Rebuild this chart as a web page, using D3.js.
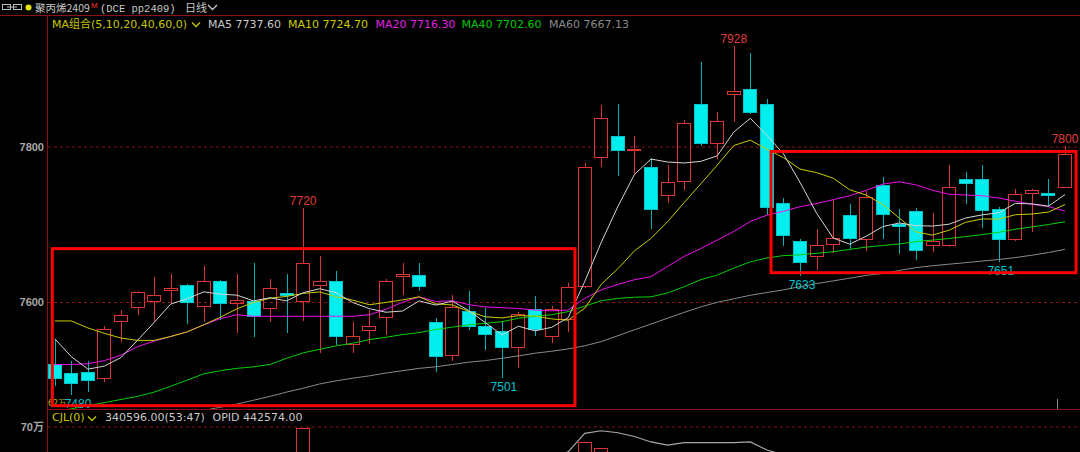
<!DOCTYPE html>
<html><head><meta charset="utf-8">
<script src="https://cdn.jsdelivr.net/npm/d3@7"></script>
<style>html,body{margin:0;padding:0;background:#000;overflow:hidden}</style>
</head><body>
<svg id="c" width="1080" height="452"></svg>
<script>
// ---------- data ----------
const opens = [7519,7508,7509,7500,7573,7591,7600,7614,7621,7593,7626,7597,7601,7590,7611,7600,7620,7626,7544,7562,7579,7631,7634,7574,7530,7588,7568,7562,7540,7590,7554,7576,7619,7784,7813,7794,7773,7736,7754,7854,7803,7866,7873,7854,7727,7678,7657,7673,7711,7679,7750,7700,7716,7671,7671,7757,7758,7719,7679,7738,7739,7746];
const highs = [7552,7523,7524,7569,7589,7613,7631,7635,7623,7646,7628,7636,7650,7629,7636,7720,7658,7639,7573,7589,7629,7649,7649,7579,7608,7614,7591,7574,7587,7607,7594,7624,7778,7853,7854,7813,7785,7776,7833,7908,7844,7928,7919,7861,7733,7680,7693,7730,7725,7742,7760,7719,7720,7714,7776,7767,7776,7721,7745,7745,7758,7800];
const lows = [7491,7480,7484,7497,7548,7583,7574,7598,7571,7573,7576,7559,7554,7573,7559,7575,7534,7544,7534,7545,7557,7608,7613,7509,7524,7563,7538,7501,7515,7555,7546,7561,7617,7773,7761,7764,7693,7727,7744,7800,7783,7831,7841,7711,7671,7633,7640,7662,7668,7665,7680,7661,7653,7664,7670,7726,7695,7651,7678,7689,7721,7746];
const closes = [7500,7494,7498,7564,7583,7612,7608,7617,7598,7627,7597,7602,7580,7618,7607,7650,7627,7554,7555,7568,7627,7635,7619,7528,7593,7567,7557,7540,7584,7563,7590,7619,7773,7836,7793,7796,7718,7754,7830,7803,7832,7871,7842,7720,7684,7649,7673,7682,7681,7735,7711,7696,7665,7678,7747,7751,7716,7679,7738,7744,7736,7790];

const ma5 = [7552,7529,7513,7517,7528,7550.2,7573,7596.8,7603.6,7612.4,7609.4,7608.2,7600.8,7604.8,7600.8,7611.4,7616.4,7611.2,7598.6,7590.8,7586.2,7587.8,7600.8,7595.4,7600.4,7588.4,7572.8,7557,7568.2,7562.2,7566.8,7579.2,7625.8,7676.2,7722.2,7763.4,7783.2,7779.4,7778.2,7780.2,7787.4,7818,7835.6,7813.6,7789.8,7753.2,7713.6,7681.6,7673.8,7684,7696.4,7701,7697.6,7697,7699.4,7707.4,7711.4,7714.2,7726.2,7725.6,7722.6,7737.6];
const ma10 = [7575,7575,7566,7559,7553,7550,7550,7555,7561,7570.1,7579.8,7590.6,7598.8,7604.2,7606.6,7610.4,7612.3,7606,7601.7,7595.8,7598.8,7602.1,7606,7597,7595.6,7587.3,7580.3,7578.9,7581.8,7581.3,7577.6,7576,7591.4,7622.2,7642.2,7665.1,7681.2,7702.6,7727.2,7751.2,7775.4,7800.6,7807.5,7795.9,7785,7770.3,7765.8,7758.6,7743.7,7736.9,7724.8,7707.3,7689.6,7685.4,7691.7,7701.9,7706.2,7705.9,7711.6,7712.5,7715,7724.7];
const ma20 = [7519,7519,7520,7524,7531,7542,7549,7555,7561,7570,7578,7583,7581,7581,7581,7581,7581,7581,7581,7583,7590,7599,7606,7600,7601,7596,7593,7592,7591,7589,7588,7589,7604,7615,7622,7628,7632,7645,7658,7668,7679,7690,7703,7711,7716,7722,7726,7731,7736,7743,7751,7754,7750,7743,7738,7737,7736,7733,7729,7725,7722,7716.3];
const ma40 = [7458,7462,7466,7470,7474,7478,7483.5,7491,7499,7507,7511,7514,7516,7519,7527,7534,7538.5,7543,7546.4,7551,7554,7557.5,7560,7564,7567,7570,7572,7574,7578.5,7581,7583,7587,7594,7601,7604,7605.5,7606,7611,7619,7628,7634,7643,7651,7656,7659,7660,7662,7664,7667,7670,7672,7674,7677,7679,7681,7683.5,7686,7689,7693,7696,7699,7702.6];
const ma60 = [null,null,null,null,null,null,null,null,null,7460,7464,7468,7473,7478,7483.5,7488.5,7494,7498,7501.4,7504.4,7508,7511,7514,7516,7519,7522,7524,7527,7530,7533.5,7536,7539,7543,7548.5,7556,7563.5,7571,7578.5,7586,7593,7599,7603.5,7608,7611.5,7615,7619,7623,7626.5,7630,7633.6,7636,7640,7643.6,7646,7648,7650,7652,7654,7656.5,7659.5,7663,7667.13];

// volume panel (only the visible parts can be read)
const volumes = [null,null,null,null,null,null,null,null,null,null,null,null,null,null,null,681000,null,null,null,null,null,null,null,null,null,null,null,null,null,null,null,null,549000,492000,null,null,null,null,null,null,null,null,null,null,null,null,null,null,null,null,null,null,null,null,null,null,null,null,null,null,null,null];
const openInterest = [null,null,null,null,null,null,null,null,null,null,null,null,null,null,null,null,null,null,null,null,null,null,null,null,null,null,null,null,null,null,407000,456000,631000,655000,636000,601000,549000,520000,543000,543000,543000,543000,549000,473000,426000,388000,null,null,null,null,null,null,null,null,null,null,null,null,null,null,null,null];

const priceTicks = [7600, 7800];
const volumeTicks = [700000];
const volumeTickLabels = ["70万"];
const maNames = ["MA5","MA10","MA20","MA40","MA60"];
const highMarks = [15, 41, 61];
const lowMarks = [1, 27, 45, 57];
// annotation rectangles in data units (candle index, price)
const boxX0 = [-0.15, 43.25];
const boxX1 = [31.41, 61.67];
const boxTop = [7668, 7793];
const boxBottom = [7466, 7637];
const volLegend = ["340596.00(53:47)", "OPID 442574.00"];

// ---------- layout ----------
const W = 1080, H = 452, L = 48, headerB = 16, mainB = 409;
const x = d3.scaleLinear().domain([0, 61]).range([54.8, 1065]);
const y = d3.scaleLinear().domain([7600, 7800]).range([301.5, 146]);
const yv = d3.scaleLinear().domain([0, 700000]).range([500, 426]);

const RED = "#dd3434", CYAN = "#00eeee", CYAN_W = "#00b2b8", DARKRED = "#8a1414";
const maColors = ["#d6d6d6", "#cccc00", "#ee10ee", "#00d000", "#8a8a8a"];
const legendColors = ["#c8c8c8", "#cccc00", "#e020e0", "#00c800", "#8a8a8a"];
const FONT = "'DejaVu Sans','Noto Sans CJK SC',sans-serif";

const svg = d3.select("#c");
svg.append("rect").attr("width", W).attr("height", H).attr("fill", "#000");
const defs = svg.append("defs");
defs.append("clipPath").attr("id", "mainClip").append("rect")
  .attr("x", L).attr("y", headerB).attr("width", W - L).attr("height", mainB - headerB);
defs.append("clipPath").attr("id", "volClip").append("rect")
  .attr("x", L).attr("y", mainB + 1).attr("width", W - L).attr("height", H - mainB);

// ---------- axes / grid ----------
const pAxis = svg.append("g").attr("transform", `translate(${L},0.5)`)
  .call(d3.axisLeft(y).tickValues(priceTicks).tickSizeInner(-(W - L)).tickSizeOuter(0).tickPadding(4).tickFormat(d3.format("d")));
pAxis.select(".domain").remove();
pAxis.selectAll(".tick line").attr("stroke", DARKRED).attr("stroke-dasharray", "3,3");
pAxis.selectAll(".tick text").attr("fill", "#a8a8a8").attr("font-family", "'Liberation Sans',sans-serif")
  .attr("font-weight", "bold").attr("font-size", 11).attr("dy", "0.35em");

const vAxis = svg.append("g").attr("transform", `translate(${L},0.5)`)
  .call(d3.axisLeft(yv).tickValues(volumeTicks).tickSizeInner(-(W - L)).tickSizeOuter(0).tickPadding(4)
    .tickFormat((d, i) => volumeTickLabels[i]));
vAxis.select(".domain").remove();
vAxis.selectAll(".tick line").attr("stroke", DARKRED).attr("stroke-dasharray", "3,3");
vAxis.selectAll(".tick text").attr("fill", "#a8a8a8").attr("font-family", "'Liberation Sans','Noto Sans CJK SC',sans-serif")
  .attr("font-weight", "bold").attr("font-size", 11).attr("dy", "0.35em");

// frame lines
svg.append("line").attr("x1", 0).attr("x2", W).attr("y1", headerB - 0.5).attr("y2", headerB - 0.5).attr("stroke", DARKRED);
svg.append("line").attr("x1", L - 0.5).attr("x2", L - 0.5).attr("y1", headerB).attr("y2", H).attr("stroke", DARKRED);
svg.append("line").attr("x1", L).attr("x2", W).attr("y1", mainB + 0.5).attr("y2", mainB + 0.5).attr("stroke", DARKRED);

// ---------- candles ----------
const main = svg.append("g").attr("clip-path", "url(#mainClip)");
const BW = 14;
opens.forEach((o, i) => {
  const c = closes[i];
  const cx = Math.round(x(i));
  const up = c >= o;
  const yt = Math.round(y(Math.max(o, c))), yb = Math.round(y(Math.min(o, c)));
  const yh = Math.round(y(highs[i])), yl = Math.round(y(lows[i]));
  const g = main.append("g");
  if (up) {
    g.append("line").attr("x1", cx + 0.5).attr("x2", cx + 0.5).attr("y1", yh).attr("y2", yt).attr("stroke", RED);
    g.append("line").attr("x1", cx + 0.5).attr("x2", cx + 0.5).attr("y1", yb).attr("y2", yl).attr("stroke", RED);
    if (yb - yt < 2) {
      g.append("line").attr("x1", cx - BW / 2).attr("x2", cx + BW / 2).attr("y1", yt + 0.5).attr("y2", yt + 0.5).attr("stroke", RED).attr("stroke-width", 2);
    } else {
      g.append("rect").attr("x", cx - BW / 2 + 0.5).attr("y", yt + 0.5).attr("width", BW - 1).attr("height", yb - yt - 1)
        .attr("fill", "none").attr("stroke", RED);
    }
  } else {
    g.append("line").attr("x1", cx + 0.5).attr("x2", cx + 0.5).attr("y1", yh).attr("y2", yl).attr("stroke", CYAN_W);
    g.append("rect").attr("x", cx - BW / 2 + 0.5).attr("y", yt + 0.5).attr("width", BW - 1).attr("height", Math.max(yb - yt - 1, 1))
      .attr("fill", CYAN).attr("stroke", "#00c4c8");
  }
});

// ---------- moving averages ----------
[ma60, ma40, ma20, ma10, ma5].forEach((arr, k) => {
  const idx = 4 - k;
  const gen = d3.line().defined(d => d != null).x((d, i) => x(i)).y(d => y(d));
  main.append("path").attr("d", gen(arr)).attr("fill", "none").attr("stroke", maColors[idx]).attr("stroke-width", 1);
});

// cursor mark at bottom of price panel
main.append("line").attr("x1", Math.round(x(60.5)) + 0.5).attr("x2", Math.round(x(60.5)) + 0.5)
  .attr("y1", mainB - 10).attr("y2", mainB).attr("stroke", "#8a8a8a");

// ---------- high / low labels ----------
highMarks.forEach(i => {
  svg.append("text").attr("x", x(i)).attr("y", y(highs[i]) - 3).attr("text-anchor", "middle")
    .attr("fill", "#e03c3c").attr("font-family", "'Liberation Sans',sans-serif").attr("font-size", 12)
    .text(highs[i]);
});
svg.append("text").attr("x", L).attr("y", mainB - 3).attr("fill", "#b8b800")
  .attr("font-family", FONT).attr("font-size", 8).text("62万");
lowMarks.forEach(i => {
  svg.append("text").attr("x", Math.max(x(i) + 2, L + 30)).attr("y", y(lows[i]) + 13).attr("text-anchor", "middle")
    .attr("fill", "#00c4d0").attr("font-family", "'Liberation Sans',sans-serif").attr("font-size", 12)
    .text(lows[i]);
});

// ---------- annotation boxes ----------
boxX0.forEach((b, k) => {
  svg.append("rect").attr("x", x(boxX0[k])).attr("y", y(boxTop[k]))
    .attr("width", x(boxX1[k]) - x(boxX0[k])).attr("height", y(boxBottom[k]) - y(boxTop[k]))
    .attr("fill", "none").attr("stroke", "#ff0000").attr("stroke-width", 3);
});

// ---------- volume panel ----------
const vol = svg.append("g").attr("clip-path", "url(#volClip)");
volumes.forEach((v, i) => {
  if (v == null) return;
  const cx = Math.round(x(i));
  const up = closes[i] >= opens[i];
  const yt = Math.round(yv(v));
  vol.append("rect").attr("x", cx - BW / 2 + 0.5).attr("y", yt + 0.5).attr("width", BW - 1).attr("height", H + 10 - yt)
    .attr("fill", up ? "none" : CYAN).attr("stroke", up ? RED : "#00c4c8");
});
vol.append("path").attr("d", d3.line().defined(d => d != null).x((d, i) => x(i)).y(d => yv(d))(openInterest))
  .attr("fill", "none").attr("stroke", "#a8a8a8").attr("stroke-width", 1.2);

// ---------- header ----------
const hdr = svg.append("g");
hdr.append("rect").attr("x", 2.5).attr("y", 4.5).attr("width", 8).attr("height", 5).attr("fill", "none").attr("stroke", "#bbb");
hdr.append("rect").attr("x", 13.5).attr("y", 4.5).attr("width", 8).attr("height", 5).attr("fill", "none").attr("stroke", "#bbb");
hdr.append("line").attr("x1", 7).attr("x2", 17).attr("y1", 7).attr("y2", 7).attr("stroke", "#bbb");
hdr.append("circle").attr("cx", 28.5).attr("cy", 7.5).attr("r", 3).attr("fill", "#e6e600");
hdr.append("text").attr("x", 35).attr("y", 12).attr("fill", "#c8c8c8").attr("font-family", "'Noto Sans CJK SC',sans-serif")
  .attr("font-size", 10.5).text("聚丙烯2409");
hdr.append("text").attr("x", 91).attr("y", 8).attr("fill", "#ff3030").attr("font-family", "'Liberation Sans',sans-serif")
  .attr("font-size", 8).text("M");
hdr.append("text").attr("x", 100).attr("y", 12).attr("fill", "#c8c8c8").attr("font-family", "'Liberation Mono',monospace")
  .attr("font-size", 10.5).text("(DCE pp2409)");
hdr.append("text").attr("x", 185).attr("y", 12).attr("fill", "#c8c8c8").attr("font-family", "'Noto Sans CJK SC',sans-serif")
  .attr("font-size", 11).text("日线");
hdr.append("path").attr("d", "M208,5 L212.5,9.5 L217,5").attr("fill", "none").attr("stroke", "#c8c8c8").attr("stroke-width", 1.3);

// MA legend
svg.append("text").attr("x", 52).attr("y", 28).attr("fill", "#c8c800").attr("font-family", FONT).attr("font-size", 11)
  .text("MA组合(5,10,20,40,60,0)");
svg.append("path").attr("d", "M192,22.5 L196,26.5 L200,22.5").attr("fill", "none").attr("stroke", "#c8c800").attr("stroke-width", 1.3);
const legendX = [208, 288, 375.5, 461.5, 549];
[ma5, ma10, ma20, ma40, ma60].forEach((arr, k) => {
  svg.append("text").attr("x", legendX[k]).attr("y", 28).attr("fill", legendColors[k]).attr("font-family", FONT)
    .attr("font-size", 11).text(`${maNames[k]} ${arr[arr.length - 1].toFixed(2)}`);
});

// volume legend
svg.append("text").attr("x", 52).attr("y", 421).attr("fill", "#c8c800").attr("font-family", FONT).attr("font-size", 11).text("CJL(0)");
svg.append("path").attr("d", "M88,416.5 L92,420.5 L96,416.5").attr("fill", "none").attr("stroke", "#c8c800").attr("stroke-width", 1.3);
svg.append("text").attr("x", 105).attr("y", 421).attr("fill", "#c8c8c8").attr("font-family", FONT).attr("font-size", 11).text(volLegend[0]);
svg.append("text").attr("x", 212.5).attr("y", 421).attr("fill", "#c8c8c8").attr("font-family", FONT).attr("font-size", 11).text(volLegend[1]);
</script>
</body></html>
